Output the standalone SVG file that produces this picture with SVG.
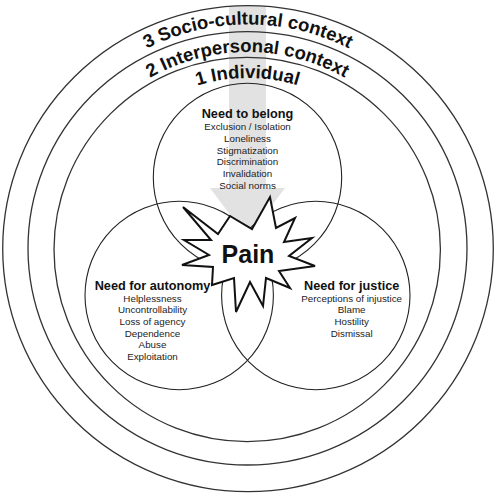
<svg xmlns="http://www.w3.org/2000/svg" width="496" height="500" viewBox="0 0 496 500">
<style>
.ring{fill:none;stroke:#333;stroke-width:1.3}
.venn{fill:none;stroke:#222;stroke-width:1.1}
.ctx{font-family:"Liberation Sans",Arial,sans-serif;font-weight:bold;font-size:18.5px;fill:#111}
.head{font-family:"Liberation Sans",Arial,sans-serif;font-weight:bold;font-size:12.7px;fill:#111;text-anchor:middle}
.item{font-family:"Liberation Sans",Arial,sans-serif;font-size:9.8px;fill:#222;text-anchor:middle}
.pain{font-family:"Liberation Sans",Arial,sans-serif;font-weight:bold;font-size:25px;fill:#111;text-anchor:middle}
</style>
<defs>
<path id="arc3" d="M 23.5 249 A 224.5 224.5 0 0 1 472.5 249"/>
<path id="arc2" d="M 50.5 249 A 197 197 0 0 1 444.5 249"/>
<path id="arc1" d="M 76.5 249 A 171 171 0 0 1 418.5 249"/>
</defs>
<g id="arrow">
<path d="M229 6 L266 6 L266 188 L285 188 L247.5 238 L210 188 L229 188 Z" fill="#e2e2e2"/>
</g>
<g id="ring3">
<ellipse class="ring" cx="248" cy="248.6" rx="245.3" ry="243"/>
<text class="ctx"><textPath href="#arc3" startOffset="50%" text-anchor="middle">3 Socio-cultural context</textPath></text>
</g>
<g id="ring2">
<ellipse class="ring" cx="247.5" cy="248.3" rx="219.5" ry="216.7"/>
<text class="ctx"><textPath href="#arc2" startOffset="50%" text-anchor="middle">2 Interpersonal context</textPath></text>
</g>
<g id="ring1">
<ellipse class="ring" cx="247.2" cy="249.5" rx="193.2" ry="192.2"/>
<text class="ctx"><textPath href="#arc1" startOffset="50%" text-anchor="middle">1 Individual</textPath></text>
</g>
<g id="belong">
<circle class="venn" cx="247.5" cy="177.5" r="94.2"/>
<text class="head" x="247.5" y="118.3">Need to belong</text>
<text class="item" x="247.5" y="130.2">Exclusion / Isolation</text>
<text class="item" x="247.5" y="141.9">Loneliness</text>
<text class="item" x="247.5" y="153.5">Stigmatization</text>
<text class="item" x="247.5" y="165.2">Discrimination</text>
<text class="item" x="247.5" y="176.8">Invalidation</text>
<text class="item" x="247.5" y="188.5">Social norms</text>
</g>
<g id="autonomy">
<circle class="venn" cx="179.2" cy="295.5" r="94.2"/>
</g>
<g id="justice">
<circle class="venn" cx="315.8" cy="295.5" r="94.2"/>
</g>
<g id="pain">
<polygon points="183,207 218,234 230,216 252,229 270,197 276,228 295,218 284,242 312,238 289,256 315,266 279,271 290,288 266,278 263,306 250,282 236,312 234,278 212,285 213,267 182,265 209,255 184,240 211,240" fill="#fff" stroke="#111" stroke-width="2" stroke-linejoin="miter"/>
<text class="pain" x="248" y="263">Pain</text>
</g>
<g id="autonomy-text">
<text class="head" x="152.5" y="289.5">Need for autonomy</text>
<text class="item" x="152.5" y="301.7">Helplessness</text>
<text class="item" x="152.5" y="313.3">Uncontrollability</text>
<text class="item" x="152.5" y="325">Loss of agency</text>
<text class="item" x="152.5" y="336.7">Dependence</text>
<text class="item" x="152.5" y="348.3">Abuse</text>
<text class="item" x="152.5" y="360">Exploitation</text>
</g>
<g id="justice-text">
<text class="head" x="351.7" y="289.5">Need for justice</text>
<text class="item" x="351.7" y="301.7">Perceptions of injustice</text>
<text class="item" x="351.7" y="313.3">Blame</text>
<text class="item" x="351.7" y="325">Hostility</text>
<text class="item" x="351.7" y="336.7">Dismissal</text>
</g>
<g id="connectors"></g>
</svg>
